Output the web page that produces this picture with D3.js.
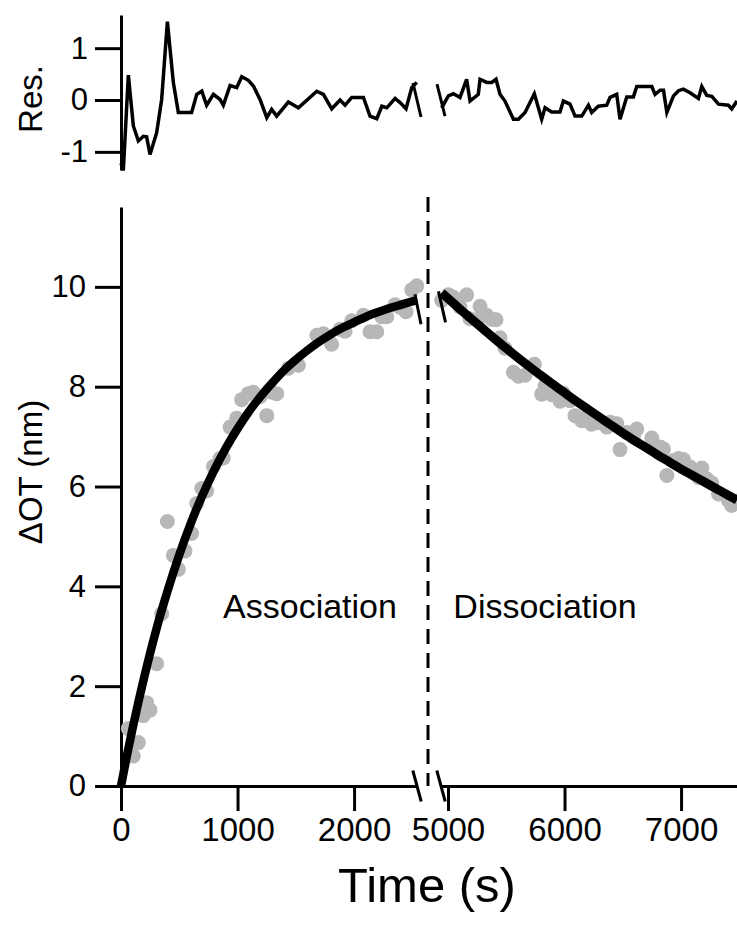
<!DOCTYPE html>
<html><head><meta charset="utf-8">
<script src="https://cdn.jsdelivr.net/npm/d3@7"></script>
<style>html,body{margin:0;padding:0;background:#fff;}svg{display:block;}</style>
</head><body>
<script>
// ---------- data ----------
const xTicksAssoc = [0, 1000, 2000];
const xTicksDissoc = [5000, 6000, 7000];
const yTicks = [0, 2, 4, 6, 8, 10];
const resTicks = [-1, 0, 1];

// measured points (gray dots)
const assocTime = [63,106,149,192,220,249,306,349,398,449,492,549,606,650,693,735,793,850,878,936,993,1036,1093,1136,1193,1251,1293,1336,1436,1522,1680,1737,1808,1880,1923,1980,2080,2137,2195,2238,2281,2352,2395,2446,2495,2538];
const assocOT   = [1.15,0.60,0.87,1.41,1.67,1.52,2.45,3.45,5.30,4.62,4.34,4.71,5.06,5.66,5.96,5.91,6.40,6.56,6.57,7.19,7.37,7.74,7.86,7.89,7.80,7.42,7.89,7.86,8.37,8.43,9.03,9.06,8.85,9.15,9.11,9.32,9.43,9.10,9.10,9.40,9.40,9.64,9.59,9.50,9.94,10.02];
const dissocTime = [4946,5003,5046,5103,5160,5189,5260,5275,5332,5375,5412,5446,5489,5561,5604,5661,5741,5804,5833,5890,5961,5990,6047,6090,6148,6205,6233,6290,6362,6391,6448,6476,6534,6591,6620,6749,6777,6820,6849,6878,6935,6978,7020,7077,7149,7178,7221,7264,7321,7406,7435,7480];
const dissocOT   = [9.73,9.84,9.79,9.60,9.84,9.36,9.35,9.61,9.43,9.35,9.34,8.98,8.77,8.29,8.21,8.23,8.45,7.85,8.02,7.84,7.71,7.87,7.72,7.42,7.32,7.44,7.25,7.28,7.19,7.29,7.26,6.74,7.08,7.00,7.15,6.97,6.78,6.79,6.75,6.22,6.52,6.56,6.54,6.39,6.18,6.37,6.15,6.07,5.85,5.72,5.62,5.71];

// fitted curves
const fitAssocTime = [0,50,100,150,200,300,400,500,600,700,800,900,1000,1100,1200,1300,1400,1500,1600,1700,1800,1900,2000,2100,2200,2300,2400,2500,2540];
const fitAssocOT   = [0,0.60,1.16,1.69,2.19,3.11,3.91,4.63,5.27,5.83,6.33,6.77,7.16,7.51,7.81,8.08,8.33,8.54,8.73,8.90,9.05,9.18,9.29,9.40,9.49,9.57,9.64,9.71,9.73];
const fitDissocTime = [4946,5000,5100,5200,5300,5400,5500,5600,5700,5800,5900,6000,6100,6200,6300,6400,6500,6600,6700,6800,6900,7000,7100,7200,7300,7400,7480];
const fitDissocOT   = [9.88,9.77,9.56,9.36,9.16,8.96,8.77,8.58,8.40,8.22,8.05,7.88,7.71,7.55,7.39,7.23,7.07,6.92,6.78,6.63,6.49,6.35,6.22,6.09,5.96,5.83,5.73];

// residuals
const resAssocTime = [0,20,63,106,149,192,220,249,306,349,398,449,492,606,650,693,735,793,850,878,936,993,1036,1093,1136,1193,1251,1293,1336,1436,1522,1680,1737,1808,1880,1923,1980,2080,2137,2195,2238,2281,2352,2395,2446,2495,2538];
const resAssoc     = [-1.22,-1.36,0.48,-0.50,-0.79,-0.70,-0.71,-1.05,-0.63,0.01,1.51,0.34,-0.24,-0.24,0.11,0.17,-0.10,0.11,0.01,-0.10,0.28,0.24,0.45,0.38,0.27,0.01,-0.34,-0.18,-0.31,-0.04,-0.15,0.17,0.11,-0.17,0,-0.10,0.05,0.05,-0.31,-0.36,-0.12,-0.15,0.03,-0.05,-0.17,0.24,0.34];
const resDissocTime = [4946,5003,5046,5103,5160,5189,5260,5275,5332,5375,5412,5446,5489,5561,5604,5661,5741,5804,5833,5890,5961,5990,6047,6090,6148,6205,6233,6290,6362,6391,6448,6476,6534,6591,6620,6749,6777,6820,6849,6878,6935,6978,7020,7077,7149,7178,7221,7264,7321,7406,7435,7480];
const resDissoc     = [-0.15,0.08,0.12,0.05,0.40,-0.02,0.11,0.40,0.34,0.34,0.40,0.11,-0.02,-0.37,-0.37,-0.24,0.12,-0.37,-0.15,-0.23,-0.23,-0.02,-0.08,-0.31,-0.31,-0.10,-0.24,-0.12,-0.10,0.05,0.11,-0.37,0.06,0.06,0.26,0.26,0.11,0.19,0.19,-0.24,0.08,0.18,0.21,0.14,0.03,0.26,0.09,0.07,-0.08,-0.10,-0.17,-0.02];

// ---------- drawing ----------
const W = 737, H = 925;
const FONT = "'Liberation Sans', Arial, Helvetica, sans-serif";
const svg = d3.select("body").append("svg").attr("width", W).attr("height", H)
  .style("font-family", FONT);

const xL = d3.scaleLinear().domain([0, 2540]).range([121, 417]);
const xR = d3.scaleLinear().domain([4940, 7480]).range([441, 737]);
const yM = d3.scaleLinear().domain([0, 11.6]).range([786, 207]);
const yR = d3.scaleLinear().domain([-1.35, 1.64]).range([170, 15]);

function styleAxis(g, fs) {
  g.selectAll("path.domain").attr("stroke", "#000").attr("stroke-width", 3);
  g.selectAll(".tick line").attr("stroke", "#000").attr("stroke-width", 3);
  g.selectAll(".tick text").attr("fill", "#000").style("font-size", fs + "px").style("font-family", FONT);
}

// dashed separator
const sepX = (xL.range()[1] + xR.range()[0]) / 2 - 1;
svg.append("line").attr("x1", sepX).attr("x2", sepX).attr("y1", yM(11.8)).attr("y2", yM(0))
  .attr("stroke", "#000").attr("stroke-width", 3).attr("stroke-dasharray", "15,9");

// main y axis
const gy = svg.append("g").attr("transform", `translate(${xL(0)},0)`)
  .call(d3.axisLeft(yM).tickValues(yTicks).tickSize(26).tickSizeOuter(0).tickPadding(9).tickFormat(d3.format("d")));
styleAxis(gy, 31);

// x axes
const gxL = svg.append("g").attr("transform", `translate(0,${yM(0)})`)
  .call(d3.axisBottom(xL).tickValues(xTicksAssoc).tickSize(25).tickSizeOuter(0).tickPadding(7).tickFormat(d3.format("d")));
styleAxis(gxL, 33);
const gxR = svg.append("g").attr("transform", `translate(0,${yM(0)})`)
  .call(d3.axisBottom(xR).tickValues(xTicksDissoc).tickSize(25).tickSizeOuter(0).tickPadding(7).tickFormat(d3.format("d")));
styleAxis(gxR, 33);

// residual y axis
const gr = svg.append("g").attr("transform", `translate(${xL(0)},0)`)
  .call(d3.axisLeft(yR).tickValues(resTicks).tickSize(26).tickSizeOuter(0).tickPadding(7).tickFormat(d3.format("d")));
styleAxis(gr, 31);
gr.selectAll(".tick text").text(d => d < 0 ? "-" + Math.abs(d) : d);

// gray measured dots
const dotsA = assocTime.map((t, i) => [xL(t), yM(assocOT[i])]);
const dotsD = dissocTime.map((t, i) => [xR(t), yM(dissocOT[i])]);
svg.append("g").selectAll("circle").data(dotsA.concat(dotsD)).join("circle")
  .attr("cx", d => d[0]).attr("cy", d => d[1]).attr("r", 7.5).attr("fill", "#b7b7b7");

// fit curves
const lineA = d3.line().x((d, i) => xL(fitAssocTime[i])).y(d => yM(d)).curve(d3.curveMonotoneX);
const lineD = d3.line().x((d, i) => xR(fitDissocTime[i])).y(d => yM(d)).curve(d3.curveMonotoneX);
svg.append("path").attr("d", lineA(fitAssocOT)).attr("fill", "none").attr("stroke", "#000").attr("stroke-width", 8.5);
svg.append("path").attr("d", lineD(fitDissocOT)).attr("fill", "none").attr("stroke", "#000").attr("stroke-width", 9);

// residual lines
const lineRA = d3.line().x((d, i) => xL(resAssocTime[i])).y(d => yR(d));
const lineRD = d3.line().x((d, i) => xR(resDissocTime[i])).y(d => yR(d));
svg.append("path").attr("d", lineRA(resAssoc)).attr("fill", "none").attr("stroke", "#000").attr("stroke-width", 3.5).attr("stroke-linejoin", "miter");
svg.append("path").attr("d", lineRD(resDissoc)).attr("fill", "none").attr("stroke", "#000").attr("stroke-width", 3.5).attr("stroke-linejoin", "miter");

// break marks
function slash(cx, cy, hh, dx) {
  svg.append("line").attr("x1", cx - dx).attr("y1", cy - hh).attr("x2", cx + dx).attr("y2", cy + hh)
    .attr("stroke", "#000").attr("stroke-width", 3);
}
const bL = xL.range()[1], bR = xR.range()[0];
slash(bL, yM(0), 15.5, 4.2); slash(bR, yM(0), 15.5, 4.2);
slash(bL + 1, yM(9.55), 15, 3); slash(bR + 1, yM(9.6), 15.5, 3.5);
slash(bL, yR(0), 17, 4); slash(bR, yR(0), 16, 4);

// texts
svg.append("text").attr("x", 310).attr("y", 618).attr("text-anchor", "middle")
  .style("font-size", "34px").text("Association");
svg.append("text").attr("x", 545).attr("y", 618).attr("text-anchor", "middle")
  .style("font-size", "34px").text("Dissociation");
svg.append("text").attr("x", 427).attr("y", 902).attr("text-anchor", "middle")
  .style("font-size", "49px").text("Time (s)");
svg.append("text").attr("transform", "translate(42,472) rotate(-90)").attr("text-anchor", "middle")
  .style("font-size", "33px").text("ΔOT (nm)");
svg.append("text").attr("transform", "translate(42,99) rotate(-90)").attr("text-anchor", "middle")
  .style("font-size", "33px").text("Res.");
</script>
</body></html>
